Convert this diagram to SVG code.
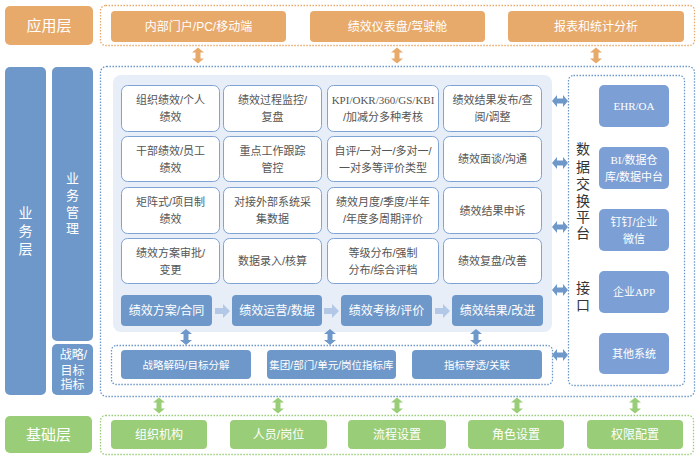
<svg xmlns="http://www.w3.org/2000/svg" width="700" height="460" viewBox="0 0 700 460">
<defs>
<style>
text{font-family:"Liberation Sans","Noto Sans CJK SC",sans-serif;text-anchor:middle}
.ser{font-family:"Liberation Serif","Noto Sans CJK SC",serif}
.or{fill:#E8AA6A}
.bl{fill:#6E98C9}
.sy{fill:#7CA0D5}
.gr{fill:#9ACD78}
.cell{fill:#fff;stroke:#7FA3D3;stroke-width:1}
.ct{font-size:11px;fill:#555}
.wt{fill:#fff}
.dot{fill:none;stroke-width:1.3;stroke-dasharray:1.5 1.5}
</style>
<path id="dv" d="M0,-8 L6,-3 L2.5,-3 L2.5,3 L6,3 L0,8 L-6,3 L-2.5,3 L-2.5,-3 L-6,-3 Z"/>
<path id="pa" d="M0,-3 L8,-3 L8,-7 L15,0 L8,7 L8,3 L0,3 Z"/>
</defs>
<rect width="700" height="460" fill="#fff"/>

<!-- containers -->
<g id="containers">
<rect class="dot" x="100.5" y="5.5" width="594" height="40" rx="5" stroke="#E8AA6A"/>
<rect class="dot" x="100.5" y="66.5" width="594" height="330" rx="6" stroke="#6E98C9"/>
<rect x="113" y="75" width="439" height="257" rx="8" fill="#E7EEF8"/>
<rect class="dot" x="568.5" y="75.5" width="116" height="310" rx="5" stroke="#6E98C9"/>
<rect class="dot" x="111.5" y="345.5" width="441" height="39" rx="5" stroke="#6E98C9"/>
<rect class="dot" x="100.5" y="415.5" width="593" height="39" rx="5" stroke="#9ACD78"/>
</g>

<!-- layer labels -->
<g id="layer-app">
<rect class="or" x="5" y="6" width="88" height="39" rx="5"/>
<text class="wt" x="49" y="31" font-size="15">应用层</text>
</g>
<g id="layer-biz">
<rect class="bl" x="5" y="67" width="41" height="328" rx="5"/>
<text class="wt" font-size="14" x="25.5"><tspan x="25.5" y="218">业</tspan><tspan x="25.5" y="236">务</tspan><tspan x="25.5" y="254">层</tspan></text>
</g>
<g id="layer-bizmgmt">
<rect class="bl" x="52" y="67" width="41" height="274" rx="5"/>
<text class="wt" font-size="13" x="72.5"><tspan x="72.5" y="183">业</tspan><tspan x="72.5" y="200">务</tspan><tspan x="72.5" y="217">管</tspan><tspan x="72.5" y="233">理</tspan></text>
</g>
<g id="layer-strategy">
<rect class="bl" x="52" y="344" width="41" height="51" rx="5"/>
<text class="wt" font-size="12" x="72.5"><tspan x="73.5" y="359">战略/</tspan><tspan x="72.5" y="375">目标</tspan><tspan x="72.5" y="389">指标</tspan></text>
</g>
<g id="layer-base">
<rect class="gr" x="5" y="416" width="87" height="37" rx="5"/>
<text class="wt" x="48.5" y="440" font-size="15">基础层</text>
</g>

<!-- application nodes -->
<g id="app-portal"><rect class="or" x="111" y="11" width="175" height="31" rx="4"/><text class="wt" x="198.5" y="31" font-size="12">内部门户/PC/移动端</text></g>
<g id="app-dashboard"><rect class="or" x="310" y="11" width="175" height="31" rx="4"/><text class="wt" x="397.5" y="31" font-size="12">绩效仪表盘/驾驶舱</text></g>
<g id="app-report"><rect class="or" x="508" y="11" width="176" height="31" rx="4"/><text class="wt" x="596" y="31" font-size="12">报表和统计分析</text></g>

<!-- grid cells -->
<g id="c11"><rect class="cell" x="121.5" y="85.5" width="98" height="46" rx="6"/><text class="ct" x="170.5"><tspan x="170.5" y="104">组织绩效/个人</tspan><tspan x="170.5" y="121">绩效</tspan></text></g>
<g id="c12"><rect class="cell" x="223.5" y="85.5" width="98" height="46" rx="6"/><text class="ct" x="272.5"><tspan x="272.5" y="104">绩效过程监控/</tspan><tspan x="272.5" y="121">复盘</tspan></text></g>
<g id="c13"><rect class="cell" x="327.5" y="85.5" width="111" height="46" rx="6"/><text class="ct" x="383"><tspan class="ser" x="383" y="104">KPI/OKR/360/GS/KBI</tspan><tspan x="383" y="121">/加减分多种考核</tspan></text></g>
<g id="c14"><rect class="cell" x="443.5" y="85.5" width="98" height="46" rx="6"/><text class="ct" x="492.5"><tspan x="492.5" y="104">绩效结果发布/查</tspan><tspan x="492.5" y="121">阅/调整</tspan></text></g>

<g id="c21"><rect class="cell" x="121.5" y="136.5" width="98" height="45" rx="6"/><text class="ct" x="170.5"><tspan x="170.5" y="155">干部绩效/员工</tspan><tspan x="170.5" y="172">绩效</tspan></text></g>
<g id="c22"><rect class="cell" x="223.5" y="136.5" width="98" height="45" rx="6"/><text class="ct" x="272.5"><tspan x="272.5" y="155">重点工作跟踪</tspan><tspan x="272.5" y="172">管控</tspan></text></g>
<g id="c23"><rect class="cell" x="327.5" y="136.5" width="111" height="45" rx="6"/><text class="ct" x="383"><tspan x="383" y="155">自评/一对一/多对一/</tspan><tspan x="383" y="172">一对多等评价类型</tspan></text></g>
<g id="c24"><rect class="cell" x="443.5" y="136.5" width="98" height="45" rx="6"/><text class="ct" x="492.5" y="163">绩效面谈/沟通</text></g>

<g id="c31"><rect class="cell" x="121.5" y="187.5" width="98" height="46" rx="6"/><text class="ct" x="170.5"><tspan x="170.5" y="206">矩阵式/项目制</tspan><tspan x="170.5" y="223">绩效</tspan></text></g>
<g id="c32"><rect class="cell" x="223.5" y="187.5" width="98" height="46" rx="6"/><text class="ct" x="272.5"><tspan x="272.5" y="206">对接外部系统采</tspan><tspan x="272.5" y="223">集数据</tspan></text></g>
<g id="c33"><rect class="cell" x="327.5" y="187.5" width="111" height="46" rx="6"/><text class="ct" x="383"><tspan x="383" y="206">绩效月度/季度/半年</tspan><tspan x="383" y="223">/年度多周期评价</tspan></text></g>
<g id="c34"><rect class="cell" x="443.5" y="187.5" width="98" height="46" rx="6"/><text class="ct" x="492.5" y="215">绩效结果申诉</text></g>

<g id="c41"><rect class="cell" x="121.5" y="238.5" width="98" height="45" rx="6"/><text class="ct" x="170.5"><tspan x="170.5" y="257">绩效方案审批/</tspan><tspan x="170.5" y="274">变更</tspan></text></g>
<g id="c42"><rect class="cell" x="223.5" y="238.5" width="98" height="45" rx="6"/><text class="ct" x="272.5" y="265">数据录入/核算</text></g>
<g id="c43"><rect class="cell" x="327.5" y="238.5" width="111" height="45" rx="6"/><text class="ct" x="383"><tspan x="383" y="257">等级分布/强制</tspan><tspan x="383" y="274">分布/综合评档</tspan></text></g>
<g id="c44"><rect class="cell" x="443.5" y="238.5" width="98" height="45" rx="6"/><text class="ct" x="492.5" y="265">绩效复盘/改善</text></g>

<!-- process nodes -->
<g id="p1"><rect class="bl" x="121" y="295" width="91" height="31" rx="4"/><text class="wt" x="166.5" y="315" font-size="12">绩效方案/合同</text></g>
<g id="p2"><rect class="bl" x="232" y="295" width="90" height="31" rx="4"/><text class="wt" x="277" y="315" font-size="12">绩效运营/数据</text></g>
<g id="p3"><rect class="bl" x="341" y="295" width="91" height="31" rx="4"/><text class="wt" x="386.5" y="315" font-size="12">绩效考核/评价</text></g>
<g id="p4"><rect class="bl" x="452" y="295" width="91" height="31" rx="4"/><text class="wt" x="497.5" y="315" font-size="12">绩效结果/改进</text></g>

<!-- strategy nodes -->
<g id="s1"><rect class="bl" x="121" y="350" width="130" height="29" rx="4"/><text class="wt" x="186" y="368.5" font-size="10.5">战略解码/目标分解</text></g>
<g id="s2"><rect class="bl" x="267" y="350" width="129" height="29" rx="4"/><text class="wt" x="331.5" y="368.5" font-size="10.5">集团/部门/单元/岗位指标库</text></g>
<g id="s3"><rect class="bl" x="412" y="350" width="130" height="29" rx="4"/><text class="wt" x="477" y="368.5" font-size="10.5">指标穿透/关联</text></g>

<!-- data exchange label -->
<g id="exchange-label">
<text font-size="14" fill="#333" x="583"><tspan x="583" y="154">数</tspan><tspan x="583" y="172">据</tspan><tspan x="583" y="189">交</tspan><tspan x="583" y="206">换</tspan><tspan x="583" y="222">平</tspan><tspan x="583" y="238">台</tspan><tspan x="583" y="293">接</tspan><tspan x="583" y="310">口</tspan></text>
</g>

<!-- system nodes -->
<g id="sys1"><rect class="sy" x="599" y="85" width="70" height="42" rx="5"/><text class="wt ser" x="634" y="110" font-size="11">EHR/OA</text></g>
<g id="sys2"><rect class="sy" x="599" y="147" width="70" height="42" rx="5"/><text class="wt" font-size="11" x="634"><tspan class="ser" x="634" y="164">BI/数据仓</tspan><tspan x="634" y="181">库/数据中台</tspan></text></g>
<g id="sys3"><rect class="sy" x="599" y="209" width="70" height="42" rx="5"/><text class="wt" font-size="11" x="634"><tspan x="634" y="226">钉钉/企业</tspan><tspan x="634" y="243">微信</tspan></text></g>
<g id="sys4"><rect class="sy" x="599" y="271" width="70" height="42" rx="5"/><text class="wt" font-size="11" x="634" y="296">企业<tspan class="ser">APP</tspan></text></g>
<g id="sys5"><rect class="sy" x="599" y="333" width="70" height="41" rx="5"/><text class="wt" font-size="11" x="634" y="358">其他系统</text></g>

<!-- base nodes -->
<g id="b1"><rect class="gr" x="111" y="420" width="96" height="29" rx="4"/><text class="wt" x="159" y="439" font-size="12">组织机构</text></g>
<g id="b2"><rect class="gr" x="230" y="420" width="97" height="29" rx="4"/><text class="wt" x="278.5" y="439" font-size="12">人员/岗位</text></g>
<g id="b3"><rect class="gr" x="348" y="420" width="98" height="29" rx="4"/><text class="wt" x="397" y="439" font-size="12">流程设置</text></g>
<g id="b4"><rect class="gr" x="468" y="420" width="96" height="29" rx="4"/><text class="wt" x="516" y="439" font-size="12">角色设置</text></g>
<g id="b5"><rect class="gr" x="587" y="420" width="96" height="29" rx="4"/><text class="wt" x="635" y="439" font-size="12">权限配置</text></g>

<!-- connectors -->
<g id="connectors">
<use href="#dv" transform="translate(198,55.5)" fill="#E8AA6A"/>
<use href="#dv" transform="translate(397,55.5)" fill="#E8AA6A"/>
<use href="#dv" transform="translate(596,55.5)" fill="#E8AA6A"/>
<use href="#pa" transform="translate(215,311)" fill="#B3C8E6"/>
<use href="#pa" transform="translate(324,311)" fill="#B3C8E6"/>
<use href="#pa" transform="translate(435,311)" fill="#B3C8E6"/>
<use href="#dv" transform="translate(186,337)" fill="#6E98C9"/>
<use href="#dv" transform="translate(330,337)" fill="#6E98C9"/>
<use href="#dv" transform="translate(476,337)" fill="#6E98C9"/>
<use href="#dv" transform="translate(560,101) rotate(90)" fill="#6E98C9"/>
<use href="#dv" transform="translate(560,163) rotate(90)" fill="#6E98C9"/>
<use href="#dv" transform="translate(560,227) rotate(90)" fill="#6E98C9"/>
<use href="#dv" transform="translate(560,290) rotate(90)" fill="#6E98C9"/>
<use href="#dv" transform="translate(560,355) rotate(90)" fill="#6E98C9"/>
<use href="#dv" transform="translate(159,405.5)" fill="#9ACD78"/>
<use href="#dv" transform="translate(278,405.5)" fill="#9ACD78"/>
<use href="#dv" transform="translate(397,405.5)" fill="#9ACD78"/>
<use href="#dv" transform="translate(517,405.5)" fill="#9ACD78"/>
<use href="#dv" transform="translate(635,405.5)" fill="#9ACD78"/>
</g>
</svg>
